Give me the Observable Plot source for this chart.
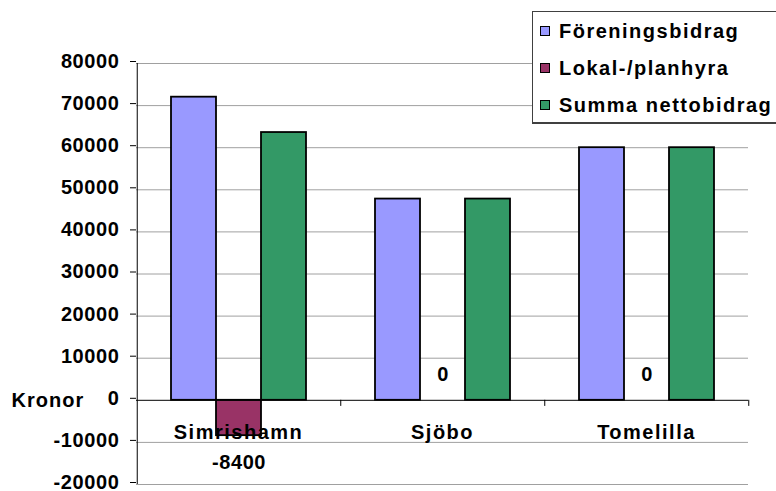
<!DOCTYPE html>
<html><head><meta charset="utf-8">
<script src="https://cdn.jsdelivr.net/npm/d3@7"></script>
<script src="https://cdn.jsdelivr.net/npm/@observablehq/plot@0.6"></script>
<style>
body{margin:0;background:#fff;overflow:hidden;font-family:"Liberation Sans",Arial,sans-serif;}
#wrap{position:relative;width:776px;height:491px;overflow:hidden;}
#legend{position:absolute;left:532px;top:11px;width:270px;height:113px;border:1px solid #404040;border-bottom-width:2px;background:#fff;box-sizing:border-box;}
.item{position:absolute;left:0;height:20px;display:flex;align-items:center;font-weight:bold;font-size:20px;letter-spacing:1.5px;color:#000;white-space:nowrap;}
.sw{width:10px;height:10px;box-sizing:border-box;border:1.5px solid #000;margin-left:7px;margin-right:9px;flex:none;}
</style></head><body><div id="wrap"></div>
<script>
const categories = ["Simrishamn", "Sjöbo", "Tomelilla"];
const seriesNames = ["Föreningsbidrag", "Lokal-/planhyra", "Summa nettobidrag"];
const foreningsbidrag = [72000, 47800, 60000];
const lokalPlanhyra = [-8400, 0, 0];
const summaNettobidrag = [63600, 47800, 60000];
const seriesColors = ["#9999FF", "#993366", "#339966"];
const yTicks = [-20000, -10000, 0, 10000, 20000, 30000, 40000, 50000, 60000, 70000, 80000];
const yLabel = "Kronor";

const seriesValues = [foreningsbidrag, lokalPlanhyra, summaNettobidrag];
const data = [];
categories.forEach((c, i) => {
  seriesNames.forEach((s, j) => data.push({category: c, series: s, value: seriesValues[j][i]}));
});

const W = 776, H = 491, mL = 135, mR = 28, mT = 63, mB = 7;
const pad = 0.75;
const step = (W - mL - mR) / categories.length / (seriesNames.length + 2 * pad);
const edge = (0.5 + pad) * step;
const font = "'Liberation Sans', Arial, sans-serif";

const chart = Plot.plot({
  width: W, height: H,
  marginLeft: mL, marginRight: mR, marginTop: mT, marginBottom: mB,
  style: {fontFamily: font, fontWeight: "bold", fontSize: "20px", color: "#000", background: "#fff", overflow: "visible"},
  fx: {domain: categories, padding: 0, axis: null},
  x: {domain: seriesNames, paddingInner: 0, paddingOuter: pad, axis: null},
  y: {domain: [yTicks[0], yTicks[yTicks.length - 1]]},
  color: {domain: seriesNames, range: seriesColors},
  marks: [
    Plot.ruleY(yTicks.filter(v => v !== 0), {stroke: "#a0a0a0", strokeWidth: 1}),
    Plot.axisY({ticks: yTicks, tickFormat: d => String(d), tickSize: 6, tickPadding: 11, fontSize: 20, fontWeight: "bold", label: null, stroke: "#000", dy: -2}),
    Plot.barY(data, {fx: "category", x: "series", y: "value", fill: "series", stroke: "#000", strokeWidth: 1.8}),
    Plot.ruleY([0], {stroke: "#000", strokeWidth: 1}),
    Plot.ruleX([categories[0]], {fx: d => d, x: () => seriesNames[0], dx: -edge, y1: yTicks[0], y2: yTicks[yTicks.length - 1], stroke: "#000"}),
    Plot.ruleX(categories, {fx: d => d, x: () => seriesNames[2], dx: edge, y1: 0, y2: -1450, stroke: "#000"}),
    Plot.text(categories, {fx: d => d, y: 0, frameAnchor: "middle", dy: 32, text: d => d, fontSize: 20, fontWeight: "bold"}),
    Plot.text(data, {filter: d => d.series === seriesNames[1] && d.value < 0, fx: "category", x: "series", y: "value", dy: 27, text: d => String(d.value), fontSize: 20, fontWeight: "bold"}),
    Plot.text(data, {filter: d => d.series === seriesNames[1] && d.value >= 0, fx: "category", x: "series", y: "value", dy: -26, text: d => String(d.value), fontSize: 20, fontWeight: "bold"}),
    Plot.text([yLabel], {fx: () => categories[0], y: 0, frameAnchor: "left", dx: -125, text: d => d, fontSize: 20, fontWeight: "bold"})
  ]
});

// letter spacing by text kind (matches the wide rendering of the original)
d3.select(chart).selectAll("text").each(function () {
  const t = this.textContent.trim();
  let ls = null;
  if (categories.includes(t)) ls = "1.5px";
  else if (t === yLabel) ls = "1px";
  else if (/^-?\d+$/.test(t)) ls = "0.6px";
  if (ls) d3.select(this).attr("letter-spacing", ls).style("letter-spacing", ls);
});

const wrap = document.getElementById("wrap");
wrap.appendChild(chart);

const legend = document.createElement("div");
legend.id = "legend";
const rowCenters = [20, 57, 94];
seriesNames.forEach((s, i) => {
  const item = document.createElement("div");
  item.className = "item";
  item.style.top = (rowCenters[i] - 10 - 1) + "px";
  const sw = document.createElement("span");
  sw.className = "sw";
  sw.style.background = seriesColors[i];
  const t = document.createElement("span");
  t.textContent = s;
  item.appendChild(sw);
  item.appendChild(t);
  legend.appendChild(item);
});
wrap.appendChild(legend);
</script>
</body></html>
